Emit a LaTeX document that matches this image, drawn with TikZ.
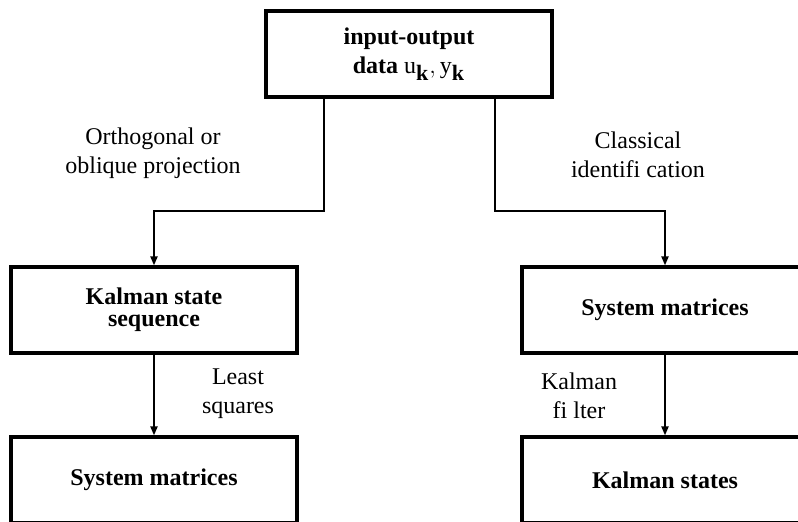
\documentclass[tikz,border=0pt]{standalone}
\usepackage{fontspec}
\setmainfont{Liberation Serif}
\usepackage{amsmath}
\usetikzlibrary{arrows.meta}

\tikzset{
    block/.style={draw, line width=1.6pt, minimum width=143pt, minimum height=43pt,
        align=center, font=\fontsize{12}{14.5}\selectfont\bfseries, inner sep=0pt},
    conn/.style={line width=1pt, -{Triangle[length=4.5pt,width=3.5pt]}},
    lbl/.style={align=center, font=\fontsize{12}{14.5}\selectfont}
}
\newcommand{\subk}{\text{\fontsize{11}{12}\selectfont\bfseries k}}

\begin{document}
\begin{tikzpicture}[x=0.5pt, y=-0.5pt]
            \clip (0,0) rectangle (798,522);
            \useasboundingbox (0,0) rectangle (798,522);

            % Draw the boxes
            \node[block] (data) at (409,54) {input-output\\data $\mathrm{u}_{\subk},\mathrm{y}_{\subk}$};
            \node[block] (kss) at (154,310) {Kalman state\\[-3.5pt]sequence};
            \node[block] (sysr) at (665,310) {System matrices};
            \node[block] (sysl) at (154,480) {System matrices};
            \node[block] (kst) at (665,480) {Kalman states};

            % Bends of the upper connectors
            \coordinate (lbend) at (324,211);
            \coordinate (rbend) at (495,211);

            % Add connectors
            \draw[conn] (lbend |- data.south) -- (lbend) -| (kss.north);
            \draw[conn] (rbend |- data.south) -- (rbend) -| (sysr.north);
            \draw[conn] (kss) -- (sysl);
            \draw[conn] (sysr) -- (kst);

            % Add labels
            \node[lbl] (proj) at (153,153) {Orthogonal or\\oblique projection};
            \node[lbl] (classic) at (638,155) {Classical\\identifi cation};
            \node[lbl] (lsq) at (238,394) {Least\\squares};
            \node[lbl] (kfilter) at (579,396) {Kalman\\fi lter};
        \end{tikzpicture}
\end{document}
